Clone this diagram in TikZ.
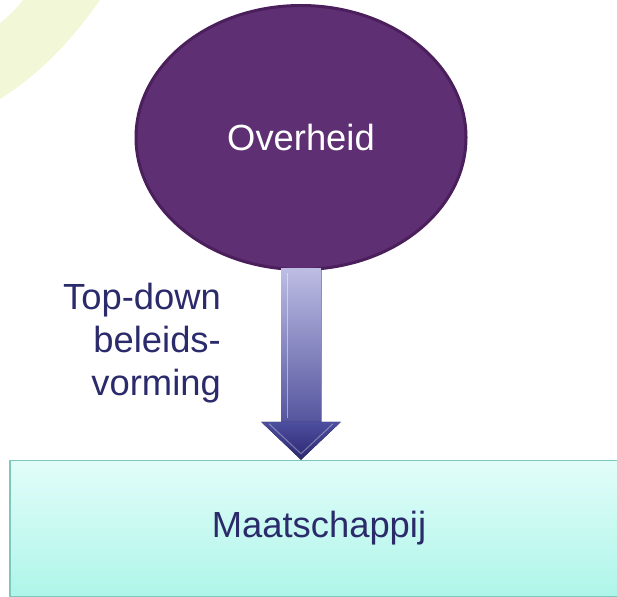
\documentclass[tikz,border=0pt]{standalone}
\usepackage{fontspec}
\setmainfont{Liberation Sans}
\usetikzlibrary{shapes.geometric,calc}
\definecolor{govpurple}{HTML}{5E2F72}
\definecolor{govedge}{HTML}{4A1F5C}
\definecolor{labelblue}{HTML}{2B2A6B}
\definecolor{boxtop}{HTML}{E2FDF9}
\definecolor{boxbottom}{HTML}{AEF5E9}
\definecolor{boxedge}{HTML}{7CC8BC}
\definecolor{bandgreen}{HTML}{F2F7D8}
\definecolor{shafttop}{HTML}{BDBDE4}
\definecolor{shaftbottom}{HTML}{55559F}
\definecolor{headtop}{HTML}{4E4EA0}
\definecolor{headbottom}{HTML}{2C2870}
\begin{document}
\begin{tikzpicture}[
    x=1bp, y=-1bp,
    actor/.style={
        ellipse,
        draw=govedge,
        line width=3bp,
        fill=govpurple,
        minimum width=330bp,
        minimum height=264bp,
        inner sep=0pt,
        text=white,
        font=\fontsize{36.5}{43}\selectfont
    },
    society/.style={
        rectangle,
        draw=boxedge,
        line width=1.5bp,
        top color=boxtop,
        bottom color=boxbottom,
        minimum width=618bp,
        minimum height=136bp,
        inner sep=0pt,
        text=labelblue,
        font=\fontsize{36.5}{43}\selectfont
    },
    caption/.style={
        align=right,
        inner sep=0pt,
        text=labelblue,
        font=\fontsize{36.5}{43}\selectfont
    }
]
    \useasboundingbox (0,0) rectangle (617,597);
    % light band in the corner
    \fill[bandgreen] (23,0) -- (100,0) .. controls (72,40) and (40,74) .. (0,99)
        -- (0,23) .. controls (9,16) and (16,9) .. (23,0);

    \node[actor] (gov) at (301,137.5) {Overheid};
    \node[society] (soc) at (319,528.5) {Maatschappij};
    \node[caption, anchor=east] (lbl) at (221,343) {Top-down\\beleids-\\vorming};

    % block arrow from gov to soc
    \coordinate (tip) at (gov.south |- soc.north);
    \fill[top color=shafttop, bottom color=shaftbottom]
        ($(gov.south)+(-20,-3)$) rectangle ($(tip)+(20,-38)$);
    \fill[top color=headtop, bottom color=headbottom]
        ($(tip)+(-40,-38)$) -- ($(tip)+(40,-38)$) -- (tip) -- cycle;
    \draw[white, opacity=0.45, line width=1bp]
        ($(gov.south)+(-14,2)$) -- ($(tip)+(-14,-42)$);
    \draw[white, opacity=0.35, line width=1bp]
        ($(tip)+(-32,-36)$) -- ($(tip)+(0,-6)$) -- ($(tip)+(32,-36)$);
    \draw[headbottom, opacity=0.5, line width=1bp]
        ($(gov.south)+(20,-3)$) -- ($(tip)+(20,-38)$);
\end{tikzpicture}
\end{document}
